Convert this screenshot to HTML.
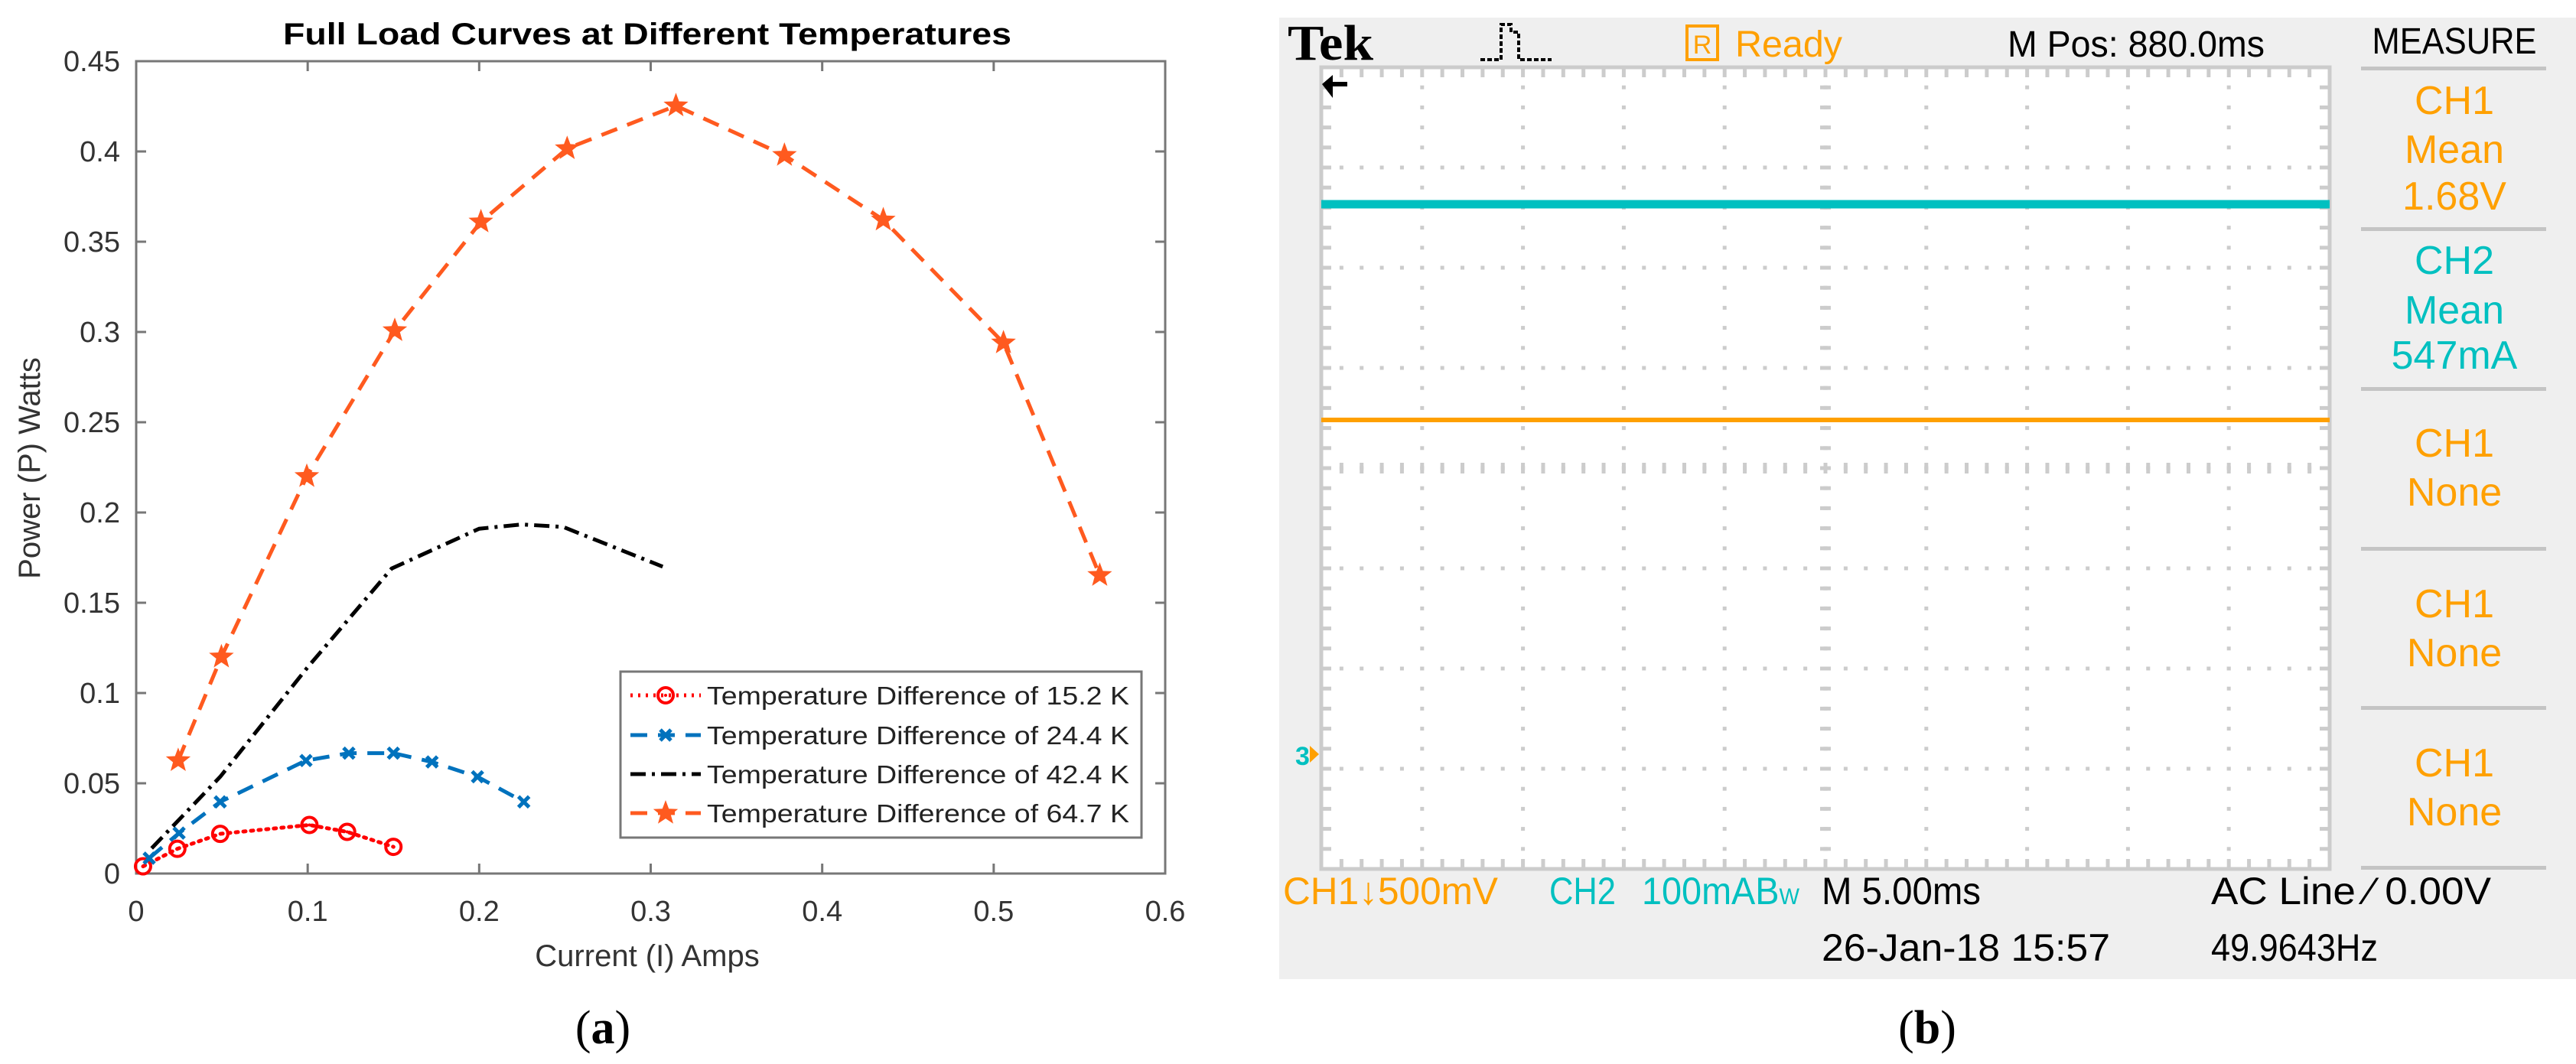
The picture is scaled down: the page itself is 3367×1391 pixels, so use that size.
<!DOCTYPE html>
<html><head><meta charset="utf-8"><style>
html,body{margin:0;padding:0;background:#fff;}
svg{display:block;}
</style></head><body>
<svg id="fig" width="3367" height="1391" viewBox="0 0 3367 1391" xmlns="http://www.w3.org/2000/svg" font-family="Liberation Sans, sans-serif">
<rect width="3367" height="1391" fill="#fff"/>
<g id="chartA"></g>
<g id="scope">
  <rect x="1672" y="23" width="1695" height="1257" fill="#efefef"/>
  <rect x="1727" y="88" width="1318" height="1048" fill="#fff" stroke="#cccccc" stroke-width="5"/>
  <g id="grid"></g>
  <line x1="1727" y1="267" x2="3045" y2="267" stroke="#00c0c0" stroke-width="11"/>
  <line x1="1727" y1="549" x2="3045" y2="549" stroke="#ffa000" stroke-width="6"/>
  <path d="M1728 110 L1742 98 L1742 107 L1761 107 L1761 113 L1742 113 L1742 128 Z" fill="#000"/>
  <text x="1693" y="1000" font-size="34" font-weight="bold" fill="#00c0c0">3</text>
  <path d="M1712 975 L1724 986 L1712 997 Z" fill="#ffa000"/>
  <text x="1683" y="78" font-family="Liberation Serif, serif" font-weight="bold" font-size="66" fill="#000" textLength="112" lengthAdjust="spacingAndGlyphs">Tek</text>
  <path d="M1935 78 H1962 V32 H1975 V42 H1985 V78 H2028" fill="none" stroke="#000" stroke-width="4" stroke-dasharray="6 3"/>
  <rect x="2205" y="34" width="40" height="44" fill="none" stroke="#ffa000" stroke-width="4"/>
  <text x="2225" y="70" text-anchor="middle" font-size="34" fill="#ffa000">R</text>
  <text x="2268" y="74" font-size="48" fill="#ffa000" textLength="140" lengthAdjust="spacingAndGlyphs">Ready</text>
  <text x="2624" y="74" font-size="48" fill="#000" textLength="336" lengthAdjust="spacingAndGlyphs">M Pos: 880.0ms</text>
  <text x="3208" y="70" text-anchor="middle" font-size="48" fill="#000" textLength="215" lengthAdjust="spacingAndGlyphs">MEASURE</text>
  <g id="meas"></g>
  <text x="1677" y="1182" font-size="50" fill="#ffa000" textLength="281" lengthAdjust="spacingAndGlyphs">CH1&#8595;500mV</text>
  <text x="2025" y="1182" font-size="50" fill="#00c0c0" textLength="87" lengthAdjust="spacingAndGlyphs">CH2</text>
  <text x="2146" y="1182" font-size="50" fill="#00c0c0" textLength="206" lengthAdjust="spacingAndGlyphs">100mAB<tspan font-size="30">W</tspan></text>
  <text x="2381" y="1182" font-size="50" fill="#000" textLength="208" lengthAdjust="spacingAndGlyphs">M 5.00ms</text>
  <text x="2890" y="1182" font-size="50" fill="#000" textLength="366" lengthAdjust="spacingAndGlyphs">AC Line &#8260; 0.00V</text>
  <text x="2381" y="1256" font-size="50" fill="#000" textLength="377" lengthAdjust="spacingAndGlyphs">26-Jan-18 15:57</text>
  <text x="2890" y="1256" font-size="50" fill="#000" textLength="218" lengthAdjust="spacingAndGlyphs">49.9643Hz</text>
</g>
<text x="788" y="1364" text-anchor="middle" font-family="Liberation Serif, serif" font-size="62">(<tspan font-weight="bold">a</tspan>)</text>
<text x="2519" y="1364" text-anchor="middle" font-family="Liberation Serif, serif" font-size="62">(<tspan font-weight="bold">b</tspan>)</text>
</svg>
<script>
const NS='http://www.w3.org/2000/svg';
// ---- chart (a) data ----
const xTicks=[0,0.1,0.2,0.3,0.4,0.5,0.6];
const yTicks=[0,0.05,0.1,0.15,0.2,0.25,0.3,0.35,0.4,0.45];
const xTickLabels=['0','0.1','0.2','0.3','0.4','0.5','0.6'];
const yTickLabels=['0','0.05','0.1','0.15','0.2','0.25','0.3','0.35','0.4','0.45'];
const seriesNames=['Temperature Difference of 15.2 K','Temperature Difference of 24.4 K','Temperature Difference of 42.4 K','Temperature Difference of 64.7 K'];
const i152=[0.004,0.024,0.049,0.101,0.123,0.150];
const p152=[0.004,0.0137,0.022,0.0269,0.0231,0.0148];
const i244=[0.0076,0.025,0.049,0.099,0.124,0.150,0.1725,0.199,0.226];
const p244=[0.0085,0.0224,0.0397,0.0626,0.0667,0.0667,0.0618,0.0536,0.0397];
const i424=[0.009,0.049,0.0995,0.149,0.200,0.225,0.249,0.307];
const p424=[0.014,0.0536,0.1137,0.169,0.191,0.1934,0.192,0.170];
const i647=[0.0245,0.0497,0.0995,0.1508,0.201,0.2513,0.3147,0.378,0.4356,0.5057,0.5618];
const p647=[0.0626,0.120,0.220,0.3008,0.361,0.4016,0.4253,0.3979,0.3621,0.294,0.1652];

const L=178,R=1523,T=80,B=1142;
const X=v=>L+(v-0)/(0.6-0)*(R-L);
const Y=v=>B-(v-0)/(0.45-0)*(B-T);
const A=document.getElementById('chartA');
function mk(tag,at,parent){const e=document.createElementNS(NS,tag);for(const k in at)e.setAttribute(k,at[k]);(parent||A).appendChild(e);return e;}

let t=mk('text',{x:846,y:58,'text-anchor':'middle','font-size':40,'font-weight':'bold',textLength:952,lengthAdjust:'spacingAndGlyphs'});


t.textContent='Full Load Curves at Different Temperatures';

let box=mk('rect',{x:L,y:T,width:R-L,height:B-T,fill:'none',stroke:'#777',"stroke-width":3});



xTicks.forEach((v,i)=>{
  const g=mk('g',{});
  
  
  mk('line',{x1:X(v),y1:B,x2:X(v),y2:B-13,stroke:'#777','stroke-width':3},g);
  mk('line',{x1:X(v),y1:T,x2:X(v),y2:T+13,stroke:'#777','stroke-width':3},g);
  const tx=mk('text',{x:X(v),y:1204,'text-anchor':'middle','font-size':38,fill:'#333'},g);
  tx.textContent=xTickLabels[i];
});
yTicks.forEach((v,i)=>{
  const g=mk('g',{});
  
  
  mk('line',{x1:L,y1:Y(v),x2:L+13,y2:Y(v),stroke:'#777','stroke-width':3},g);
  mk('line',{x1:R,y1:Y(v),x2:R-13,y2:Y(v),stroke:'#777','stroke-width':3},g);
  const tx=mk('text',{x:157,y:Y(v)+13,'text-anchor':'end','font-size':38,fill:'#333'},g);
  tx.textContent=yTickLabels[i];
});
t=mk('text',{x:846,y:1263,'text-anchor':'middle','font-size':40,fill:'#333'});


t.textContent='Current (I) Amps';
t=mk('text',{x:0,y:0,'text-anchor':'middle','font-size':40,fill:'#333',transform:'translate(52,612) rotate(-90)'});


t.textContent='Power (P) Watts';

function star(cx,cy,r){let d='';for(let k=0;k<10;k++){const a=-Math.PI/2+k*Math.PI/5;const rr=k%2?r*0.42:r;d+=(k?'L':'M')+(cx+rr*Math.cos(a)).toFixed(1)+' '+(cy+rr*Math.sin(a)).toFixed(1);}return d+'Z';}
function marker(type,cx,cy,col,g){
  if(type==='o'){mk('circle',{cx,cy,r:10,fill:'none',stroke:col,'stroke-width':4},g);mk('circle',{cx,cy,r:2,fill:col},g);}
  else if(type==='x'){mk('path',{d:`M${cx-7} ${cy-7}L${cx+7} ${cy+7}M${cx+7} ${cy-7}L${cx-7} ${cy+7}`,stroke:col,'stroke-width':5},g);}
  else if(type==='*'){mk('path',{d:star(cx,cy,17),fill:col},g);}
}
const styles=[
  {xs:i152,ys:p152,col:'#ff0000',dash:'3 7',w:5,m:'o',name:'series-15-2k'},
  {xs:i244,ys:p244,col:'#0072bd',dash:'22 14',w:5,m:'x',name:'series-24-4k'},
  {xs:i424,ys:p424,col:'#000000',dash:'20 8 4 8',w:5,m:null,name:'series-42-4k'},
  {xs:i647,ys:p647,col:'#ff5a1f',dash:'22 14',w:5,m:'*',name:'series-64-7k'}];
styles.forEach(s=>{
  const g=mk('g',{});
  
  
  const pts=s.xs.map((v,i)=>X(v).toFixed(1)+','+Y(s.ys[i]).toFixed(1)).join(' ');
  const pl=mk('polyline',{points:pts,fill:'none',stroke:s.col,'stroke-width':s.w,'stroke-dasharray':s.dash,'stroke-linecap':s.m==='o'?'round':'butt'},g);
  
  
  if(s.m) s.xs.forEach((v,i)=>marker(s.m,X(v),Y(s.ys[i]),s.col,g));
});
// legend
const lg=mk('g',{});


mk('rect',{x:811,y:878,width:681,height:217,fill:'#fff',stroke:'#777','stroke-width':3},lg);
const ly=[909,961,1012,1063];
styles.forEach((s,i)=>{
  const e=mk('g',{},lg);
  
  
  mk('line',{x1:824,y1:ly[i],x2:916,y2:ly[i],stroke:s.col,'stroke-width':5,'stroke-dasharray':s.dash},e);
  if(s.m) marker(s.m,870,ly[i],s.col,e);
  const tx=mk('text',{x:924,y:ly[i]+12,'font-size':33,fill:'#222',textLength:552,lengthAdjust:'spacingAndGlyphs'},e);
  tx.textContent=seriesNames[i];
});

// ---- scope grid ----
const G=document.getElementById('grid');
const sx0=1727,sy0=88,dx=131.8,dy=131;
for(let c=1;c<10;c++){const x=sx0+c*dx;for(let k=1;k<40;k++){const y=sy0+k*dy/5;mk('rect',{x:x-2.5,y:y-2.5,width:5,height:5,fill:'#cccccc'},G);}}
for(let r=1;r<8;r++){const y=sy0+r*dy;for(let k=1;k<50;k++){const x=sx0+k*dx/5;mk('rect',{x:x-2.5,y:y-2.5,width:5,height:5,fill:'#cccccc'},G);}}
for(let k=1;k<50;k++){const x=sx0+k*dx/5;
  mk('rect',{x:x-2.5,y:sy0,width:5,height:13,fill:'#cccccc'},G);
  mk('rect',{x:x-2.5,y:sy0+8*dy-13,width:5,height:13,fill:'#cccccc'},G);
  mk('rect',{x:x-2.5,y:sy0+4*dy-7,width:5,height:14,fill:'#cccccc'},G);}
for(let k=1;k<40;k++){const y=sy0+k*dy/5;
  mk('rect',{x:sx0,y:y-2.5,width:13,height:5,fill:'#cccccc'},G);
  mk('rect',{x:sx0+10*dx-13,y:y-2.5,width:13,height:5,fill:'#cccccc'},G);
  mk('rect',{x:sx0+5*dx-7,y:y-2.5,width:14,height:5,fill:'#cccccc'},G);}

// ---- measure panel ----
const M=document.getElementById('meas');
[89,299,508,717,925,1134].forEach(y=>mk('rect',{x:3086,y:y-2,width:242,height:5,fill:'#c4c4c4'},M));
const measLines=[['CH1','Mean','1.68V'],['CH2','Mean','547mA'],['CH1','None'],['CH1','None'],['CH1','None']];
const measCols=['#ffa000','#00c0c0','#ffa000','#ffa000','#ffa000'];
const measY=[[130,194,255],[339,404,463],[578,642],[788,852],[996,1060]];
measLines.forEach((ls,i)=>ls.forEach((s,j)=>{
  const tx=mk('text',{x:3208,y:measY[i][j]+19,'text-anchor':'middle','font-size':52,fill:measCols[i]},M);
  
  
  tx.textContent=s;
}));
</script>
</body></html>
